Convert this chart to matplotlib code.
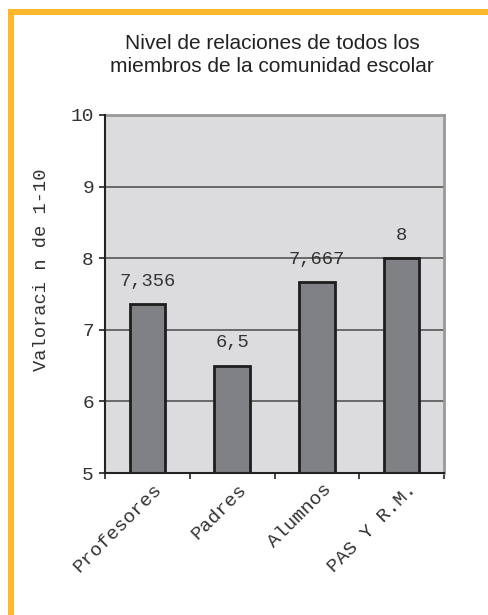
import matplotlib.pyplot as plt
from matplotlib.patches import Rectangle
from matplotlib.transforms import ScaledTranslation

categories = ["Profesores", "Padres", "Alumnos", "PAS Y R.M."]
values = [7.356, 6.5, 7.667, 8]
yticks = [5, 6, 7, 8, 9, 10]

title = "Nivel de relaciones de todos los\nmiembros de la comunidad escolar"
ylabel = "Valoraci n de 1-10"

mono = "Liberation Mono"
sans = "Liberation Sans"


def main():
    fig = plt.figure(figsize=(4.88, 6.15), dpi=100)
    W, H = 488, 615

    # orange frame (top and left)
    fig.add_artist(Rectangle((8 / W, 1 - 15 / H), 1, 6 / H, transform=fig.transFigure,
                             facecolor="#fdb92b", edgecolor="none"))
    fig.add_artist(Rectangle((8 / W, 0), 6 / W, 1 - 9 / H, transform=fig.transFigure,
                             facecolor="#fdb92b", edgecolor="none"))

    ax = fig.add_axes([105 / W, 1 - 473 / H, 339 / W, 358 / H])
    ax.set_facecolor("#dcdcde")

    x = list(range(len(categories)))
    ax.bar(x, values, width=0.42, bottom=0, color="#808185", edgecolor="#1e1e1e",
           linewidth=2, zorder=3)
    ax.set_xlim(-0.5, len(categories) - 0.5)
    ax.set_ylim(5, 10)

    for xi, v in zip(x, values):
        ax.annotate(f"{v:g}".replace(".", ","), (xi, v), xytext=(0, 16.5),
                    textcoords="offset points", ha="center", va="center",
                    fontfamily=mono, fontsize=13.5, color="#333333", zorder=4)

    for y in yticks[1:-1]:
        ax.axhline(y, color="#555555", linewidth=1.2, zorder=1)

    ax.set_yticks(yticks)
    ax.set_yticklabels([str(t) for t in yticks], fontfamily=mono, fontsize=14, color="#333333")
    ax.set_xticks(x)
    ax.set_xticks([i - 0.5 for i in range(len(categories) + 1)], minor=True)
    ax.set_xticklabels(categories, fontfamily=mono, fontsize=14, color="#333333",
                       rotation=45, ha="right", va="center", rotation_mode="anchor")
    ax.tick_params(axis="x", which="major", length=0, pad=10)
    ax.tick_params(axis="x", which="minor", length=4, width=1.2, color="#222222")
    ax.tick_params(axis="y", length=4, width=1.2, color="#222222", pad=4)
    for lab in ax.get_xticklabels():
        lab.set_transform(lab.get_transform() + ScaledTranslation(12 / 100, 0, fig.dpi_scale_trans))

    for side in ["left", "bottom"]:
        ax.spines[side].set_color("#222222")
        ax.spines[side].set_linewidth(1.5)
        ax.spines[side].set_zorder(5)
    for side in ["top", "right"]:
        ax.spines[side].set_color("#999999")
        ax.spines[side].set_linewidth(2)

    fig.text(272 / W, 1 - 55 / H, title, ha="center", va="center", fontfamily=sans,
             fontsize=15, color="#222222", linespacing=1.32)
    fig.text(42 / W, 1 - 270 / H, ylabel, ha="center", va="center", rotation=90,
             fontfamily=mono, fontsize=13.5, color="#333333")

    fig.savefig("out.png", dpi=100)


if __name__ == "__main__":
    main()
